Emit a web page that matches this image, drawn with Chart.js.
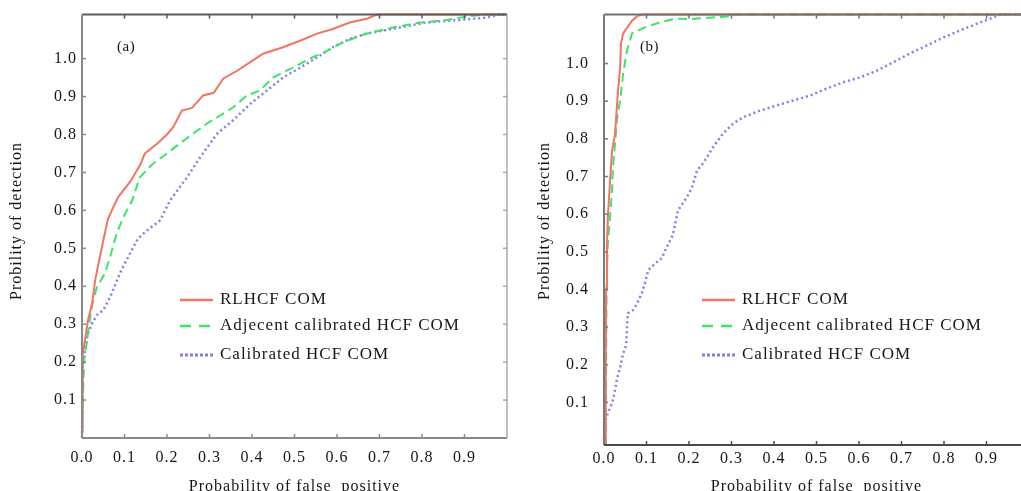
<!DOCTYPE html>
<html>
<head>
<meta charset="utf-8">
<script src="https://cdn.jsdelivr.net/npm/chart.js@4.4.1/dist/chart.umd.min.js"></script>
<style>
  html, body { margin: 0; padding: 0; background: #fff; overflow: hidden; width: 1021px; height: 491px; }
  .box { position: absolute; top: 0; width: 520px; height: 500px; }
  #boxA { left: 0; }
  #boxB { left: 520px; }
</style>
</head>
<body>
<div class="box" id="boxA"><canvas id="chartA"></canvas></div>
<div class="box" id="boxB"><canvas id="chartB"></canvas></div>
<script>
// x tick labels, y tick labels
const xTicks = [0, 0.1, 0.2, 0.3, 0.4, 0.5, 0.6, 0.7, 0.8, 0.9];
const yTicks = [0.1, 0.2, 0.3, 0.4, 0.5, 0.6, 0.7, 0.8, 0.9, 1.0];
const seriesNames = ['RLHCF COM', 'Adjecent calibrated HCF COM', 'Calibrated HCF COM'];
const xTitle = 'Probability of false  positive';
const yTitle = 'Probility of detection';

// panel (a): [false positive, detection]
const redA = [[0, 0.02], [0.001, 0.12], [0.002, 0.22], [0.007, 0.258], [0.014, 0.31], [0.024, 0.355],
  [0.031, 0.416], [0.042, 0.477], [0.05, 0.52], [0.061, 0.578], [0.085, 0.635], [0.113, 0.675],
  [0.137, 0.72], [0.148, 0.75], [0.176, 0.775], [0.2, 0.8], [0.215, 0.82], [0.235, 0.863],
  [0.259, 0.87], [0.285, 0.903], [0.31, 0.91], [0.332, 0.947], [0.365, 0.968], [0.395, 0.99],
  [0.426, 1.013], [0.473, 1.03], [0.513, 1.047], [0.553, 1.066], [0.59, 1.078], [0.63, 1.095],
  [0.67, 1.105], [0.694, 1.116], [1.0, 1.116]];
const greenA = [[0, 0.01], [0.002, 0.1], [0.005, 0.205], [0.012, 0.258], [0.019, 0.318], [0.026, 0.363],
  [0.035, 0.397], [0.054, 0.434], [0.066, 0.477], [0.082, 0.54], [0.097, 0.582], [0.118, 0.626],
  [0.136, 0.687], [0.167, 0.723], [0.2, 0.75], [0.23, 0.776], [0.261, 0.802], [0.294, 0.829],
  [0.325, 0.85], [0.355, 0.871], [0.388, 0.903], [0.419, 0.916], [0.449, 0.95], [0.496, 0.976],
  [0.536, 1.0], [0.576, 1.02], [0.614, 1.043], [0.67, 1.066], [0.732, 1.082], [0.795, 1.095],
  [0.85, 1.1], [0.889, 1.108], [0.92, 1.113], [0.95, 1.116], [1.0, 1.116]];
const blueA = [[0, 0.0], [0.001, 0.1], [0.002, 0.187], [0.007, 0.232], [0.014, 0.276], [0.024, 0.303],
  [0.035, 0.324], [0.05, 0.337], [0.066, 0.371], [0.089, 0.434], [0.113, 0.487], [0.132, 0.526],
  [0.153, 0.547], [0.184, 0.574], [0.207, 0.626], [0.247, 0.687], [0.278, 0.74], [0.318, 0.802],
  [0.355, 0.837], [0.395, 0.88], [0.435, 0.916], [0.473, 0.95], [0.513, 0.976], [0.553, 1.003],
  [0.59, 1.03], [0.63, 1.052], [0.67, 1.066], [0.748, 1.082], [0.81, 1.095], [0.889, 1.102],
  [0.953, 1.108], [0.98, 1.116], [1.0, 1.116]];

// panel (b)
const redB = [[0.003, -0.013], [0.004, 0.2], [0.005, 0.4], [0.007, 0.512], [0.009, 0.592], [0.014, 0.682],
  [0.019, 0.769], [0.026, 0.814], [0.033, 0.928], [0.038, 0.99], [0.04, 1.053], [0.045, 1.08],
  [0.066, 1.114], [0.08, 1.127], [0.092, 1.13], [1.0, 1.13]];
const greenB = [[0.004, -0.013], [0.005, 0.2], [0.006, 0.4], [0.009, 0.522], [0.014, 0.592], [0.019, 0.663],
  [0.021, 0.724], [0.026, 0.788], [0.031, 0.857], [0.038, 0.902], [0.045, 0.973], [0.054, 1.034],
  [0.066, 1.08], [0.096, 1.096], [0.136, 1.111], [0.167, 1.119], [0.2, 1.118], [0.29, 1.125],
  [0.3, 1.13], [1.0, 1.13]];
const blueB = [[0.0, 0.0], [0.002, 0.045], [0.009, 0.072], [0.019, 0.098], [0.026, 0.133], [0.03, 0.159],
  [0.038, 0.194], [0.045, 0.23], [0.052, 0.252], [0.056, 0.337], [0.068, 0.345], [0.078, 0.363],
  [0.089, 0.39], [0.096, 0.416], [0.104, 0.451], [0.12, 0.469], [0.136, 0.483], [0.144, 0.504],
  [0.162, 0.545], [0.174, 0.61], [0.195, 0.645], [0.207, 0.671], [0.219, 0.716], [0.233, 0.735],
  [0.256, 0.777], [0.28, 0.814], [0.304, 0.841], [0.327, 0.857], [0.367, 0.875], [0.407, 0.889],
  [0.445, 0.902], [0.485, 0.915], [0.525, 0.934], [0.562, 0.95], [0.602, 0.963], [0.642, 0.981],
  [0.68, 1.003], [0.72, 1.027], [0.76, 1.048], [0.798, 1.069], [0.838, 1.088], [0.878, 1.106],
  [0.908, 1.119], [0.932, 1.13], [1.0, 1.13]];

const colors = ['#f27462', '#3fe36a', '#7f7ff0'];
const dashes = [[], [9, 5], [2, 3]];
const serif = 'Liberation Serif';
const ink = '#161616';

function toXY(arr) {
  return arr.map(p => ({ x: p[0], y: p[1] }));
}

// frame, inward ticks, y title, panel letter and in-plot legend
const framePlugin = {
  id: 'frame',
  beforeDraw(chart) {
    chart.ctx.letterSpacing = '1px';
  },
  afterDraw(chart, args, opts) {
    const { ctx, chartArea: a, scales } = chart;
    ctx.save();
    ctx.letterSpacing = '0px';
    const line = (x1, y1, x2, y2, color, w) => {
      ctx.strokeStyle = color;
      ctx.lineWidth = w;
      ctx.setLineDash([]);
      ctx.beginPath();
      ctx.moveTo(x1, y1);
      ctx.lineTo(x2, y2);
      ctx.stroke();
    };
    line(a.left, a.top, a.right, a.top, opts.top, 2);
    line(a.left, a.top, a.left, a.bottom, opts.left, 2);
    line(a.right, a.top, a.right, a.bottom, opts.right, 1.5);
    line(a.left, a.bottom, a.right, a.bottom, opts.bottom, 2);
    xTicks.slice(1).forEach(v => {
      const x = scales.x.getPixelForValue(v);
      line(x, a.bottom, x, a.bottom - 4, opts.bottom, 1.5);
      line(x, a.top, x, a.top + 4, opts.top, 1.5);
    });
    yTicks.forEach(v => {
      const y = scales.y.getPixelForValue(v);
      line(a.left, y, a.left + 4, y, opts.left, 1.5);
      line(a.right, y, a.right - 4, y, opts.right, 1.5);
    });

    ctx.fillStyle = ink;
    ctx.textBaseline = 'middle';
    ctx.textAlign = 'center';
    ctx.letterSpacing = '1px';
    ctx.font = '16px "' + serif + '"';
    ctx.save();
    ctx.translate(opts.yTitleX, 221);
    ctx.rotate(-Math.PI / 2);
    ctx.fillText(yTitle, 0, 0);
    ctx.restore();

    ctx.textAlign = 'left';
    ctx.letterSpacing = '0.5px';
    ctx.font = '15px "' + serif + '"';
    ctx.fillText(opts.letter, a.left + opts.letterDx, 47);

    ctx.font = '17px "' + serif + '"';
    ctx.letterSpacing = '1px';
    const lx = a.left + opts.legendDx;
    [300, 326, 355].forEach((y, i) => {
      ctx.strokeStyle = colors[i];
      ctx.lineWidth = i === 2 ? 3 : 2.5;
      ctx.setLineDash(i === 1 ? [11, 8] : i === 2 ? [3, 2] : []);
      ctx.beginPath();
      ctx.moveTo(lx, y);
      ctx.lineTo(lx + 33, y);
      ctx.stroke();
      ctx.fillStyle = ink;
      ctx.fillText(seriesNames[i], lx + 40, y);
    });
    ctx.restore();
  }
};

function makeChart(id, sets, o) {
  const datasets = sets.map((s, i) => ({
    label: seriesNames[i],
    data: toXY(s),
    borderColor: colors[i],
    borderWidth: i === 2 ? 2.5 : 2,
    borderDash: dashes[i],
    pointRadius: 0,
    tension: 0,
    fill: false,
    clip: 2
  }));
  return new Chart(document.getElementById(id), {
    type: 'line',
    data: { datasets },
    plugins: [framePlugin],
    options: {
      responsive: true,
      maintainAspectRatio: false,
      animation: false,
      layout: { padding: { top: 14, right: o.padRight, left: 0, bottom: 0 } },
      plugins: {
        legend: { display: false },
        tooltip: { enabled: false },
        frame: o.frame
      },
      scales: {
        x: {
          type: 'linear',
          min: 0,
          max: 1,
          afterBuildTicks: s => { s.ticks = xTicks.map(v => ({ value: v })); },
          afterFit: s => { s.height = o.xHeight; },
          grid: { display: false, drawTicks: false },
          border: { display: false },
          ticks: {
            padding: o.xPad,
            maxRotation: 0,
            autoSkip: false,
            color: ink,
            font: { family: serif, size: 16 },
            callback: v => v.toFixed(1)
          },
          title: {
            display: true,
            text: xTitle,
            color: ink,
            font: { family: serif, size: 16 },
            padding: { top: 0, bottom: 4 },
            align: 'center'
          }
        },
        y: {
          type: 'linear',
          min: o.yMin,
          max: o.yMax,
          afterBuildTicks: s => { s.ticks = yTicks.map(v => ({ value: v })); },
          afterFit: s => { s.width = o.yWidth; },
          grid: { display: false, drawTicks: true, tickLength: o.yGap },
          border: { display: false },
          ticks: {
            padding: 5,
            autoSkip: false,
            color: ink,
            font: { family: serif, size: 16 },
            callback: v => v.toFixed(1)
          },
          title: { display: false }
        }
      }
    }
  });
}

makeChart('chartA', [redA, greenA, blueA], {
  padRight: 13, xHeight: 62, yWidth: 82, xPad: 10, yGap: 0,
  yMin: 0, yMax: 1.116,
  frame: { top: '#5a5a5a', left: '#8a8a8a', right: '#a8a8a8', bottom: '#8a8a8a',
    letter: '(a)', letterDx: 35, legendDx: 98, yTitleX: 17 }
});

makeChart('chartB', [redB, greenB, blueB], {
  padRight: 11, xHeight: 55, yWidth: 84, xPad: 4, yGap: 10,
  yMin: -0.013, yMax: 1.13,
  frame: { top: '#707070', left: '#7a7a7a', right: '#a8a8a8', bottom: '#4a4a4a',
    letter: '(b)', letterDx: 36, legendDx: 98, yTitleX: 25 }
});
</script>
</body>
</html>
